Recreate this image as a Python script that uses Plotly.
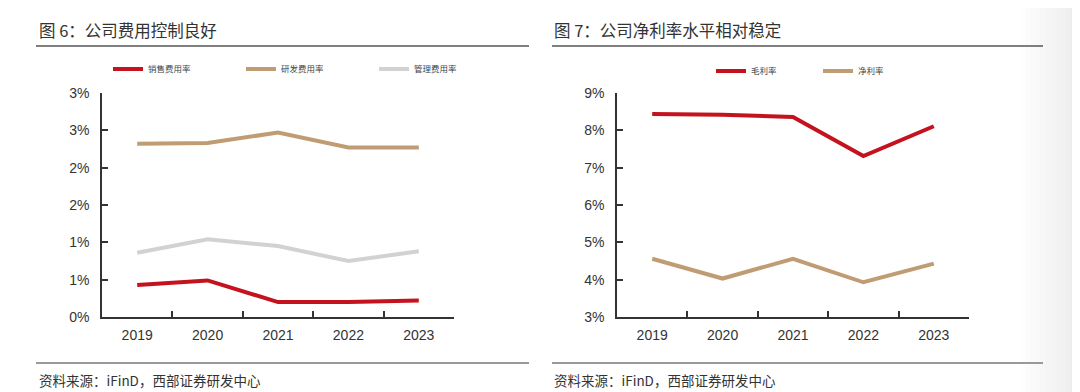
import plotly.graph_objects as go

W, H = 1080, 392
OX, OY = 8, 8   # the page body offsets the figure by 8 px

# ---------------- data ----------------
years = ["2019", "2020", "2021", "2022", "2023"]
sales_rate = [0.43, 0.49, 0.20, 0.20, 0.22]      # 销售费用率 (%)
rnd_rate = [2.32, 2.33, 2.47, 2.27, 2.27]        # 研发费用率 (%)
admin_rate = [0.86, 1.04, 0.95, 0.75, 0.88]      # 管理费用率 (%)
gross_margin = [8.44, 8.42, 8.36, 7.31, 8.11]    # 毛利率 (%)
net_margin = [4.56, 4.03, 4.56, 3.93, 4.43]      # 净利率 (%)

left_yvals = [0, 0.5, 1, 1.5, 2, 2.5, 3]
left_ytext = ["0%", "1%", "1%", "2%", "2%", "3%", "3%"]
right_yvals = [3, 4, 5, 6, 7, 8, 9]
right_ytext = ["3%", "4%", "5%", "6%", "7%", "8%", "9%"]

title_left = "图 6：公司费用控制良好"
title_right = "图 7：公司净利率水平相对稳定"
source_text = "资料来源：iFinD，西部证券研发中心"

RED = "#C4121F"
TAN = "#C09C74"
GRAY = "#D2D2D2"
AX = "#333333"
CJK = "Noto Sans CJK SC"
LAT = "Liberation Sans, Arial"


def px_x(x):
    return (x - OX) / W


def px_y(y):
    return (H - (y - OY)) / H


fig = go.Figure()

fig.add_trace(go.Scatter(x=years, y=sales_rate, name="销售费用率", mode="lines",
                         line=dict(color=RED, width=4), xaxis="x", yaxis="y", legend="legend"))
fig.add_trace(go.Scatter(x=years, y=rnd_rate, name="研发费用率", mode="lines",
                         line=dict(color=TAN, width=4), xaxis="x", yaxis="y", legend="legend"))
fig.add_trace(go.Scatter(x=years, y=admin_rate, name="管理费用率", mode="lines",
                         line=dict(color=GRAY, width=4), xaxis="x", yaxis="y", legend="legend"))
fig.add_trace(go.Scatter(x=years, y=gross_margin, name="毛利率", mode="lines",
                         line=dict(color=RED, width=4), xaxis="x2", yaxis="y2", legend="legend2"))
fig.add_trace(go.Scatter(x=years, y=net_margin, name="净利率", mode="lines",
                         line=dict(color=TAN, width=4), xaxis="x2", yaxis="y2", legend="legend2"))

ydom = [px_y(317), px_y(93)]

xcommon = dict(type="category", range=[-0.5, 4.5], showline=True, linecolor=AX, linewidth=1.5,
               ticks="inside", tickson="boundaries", ticklen=6, tickwidth=1.5, tickcolor=AX,
               showgrid=False, zeroline=False, fixedrange=True, automargin=False,
               tickfont=dict(family=LAT, size=14, color=AX), ticklabelstandoff=4)
ycommon = dict(showline=True, linecolor=AX, linewidth=1.5, ticks="inside", ticklen=6,
               tickwidth=1.5, tickcolor=AX, showgrid=False, zeroline=False, automargin=False,
               tickfont=dict(family=LAT, size=14, color=AX), ticklabelstandoff=8)

legend_common = dict(orientation="h", xanchor="left", yanchor="middle", bgcolor="rgba(0,0,0,0)",
                     borderwidth=0, font=dict(family=CJK, size=8.5, color="#444"),
                     entrywidthmode="pixels", itemclick=False, itemdoubleclick=False,
                     tracegroupgap=0)

# background gradient on the right edge
shapes = []
n = 14
x_start, x_end = 1020, 1090
for i in range(n):
    x0 = x_start + (x_end - x_start) * i / n
    x1 = x_start + (x_end - x_start) * (i + 1) / n
    v = int(255 - (255 - 232) * ((i + 0.5) / n))
    shapes.append(dict(type="rect", xref="paper", yref="paper", x0=px_x(x0), x1=px_x(x1),
                       y0=0, y1=1, fillcolor=f"rgb({v},{v},{v})", line=dict(width=0), layer="below"))

# title and source lines
for (a, b) in [(36, 529), (552, 1043)]:
    shapes.append(dict(type="line", xref="paper", yref="paper", x0=px_x(a), x1=px_x(b),
                       y0=px_y(46), y1=px_y(46), line=dict(color="#555555", width=1.5)))
    shapes.append(dict(type="line", xref="paper", yref="paper", x0=px_x(a), x1=px_x(b),
                       y0=px_y(363), y1=px_y(363), line=dict(color="#999999", width=2)))

annotations = [
    dict(text=title_left, x=px_x(37), y=px_y(30), xref="paper", yref="paper", xanchor="left",
         yanchor="middle", showarrow=False, font=dict(family=CJK, size=16.5, color="#333")),
    dict(text=title_right, x=px_x(552), y=px_y(30), xref="paper", yref="paper", xanchor="left",
         yanchor="middle", showarrow=False, font=dict(family=CJK, size=16.5, color="#333")),
    dict(text=source_text, x=px_x(37), y=px_y(380), xref="paper", yref="paper", xanchor="left",
         yanchor="middle", showarrow=False, font=dict(family=CJK, size=13.5, color="#333")),
    dict(text=source_text, x=px_x(552), y=px_y(380), xref="paper", yref="paper", xanchor="left",
         yanchor="middle", showarrow=False, font=dict(family=CJK, size=13.5, color="#333")),
]

fig.update_layout(
    width=W, height=H, margin=dict(l=0, r=0, t=0, b=0, pad=0, autoexpand=False),
    paper_bgcolor="white", plot_bgcolor="white", showlegend=True,
    xaxis=dict(domain=[px_x(102), px_x(454)], anchor="y", **xcommon),
    yaxis=dict(domain=ydom, anchor="x", range=[0, 3], tickvals=left_yvals, ticktext=left_ytext,
               **ycommon),
    xaxis2=dict(domain=[px_x(617), px_x(969)], anchor="y2", **xcommon),
    yaxis2=dict(domain=ydom, anchor="x2", range=[3, 9], tickvals=right_yvals, ticktext=right_ytext,
                **ycommon),
    legend=dict(x=px_x(108), y=px_y(69), entrywidth=88, **legend_common),
    legend2=dict(x=px_x(711), y=px_y(71), entrywidth=62, **legend_common),
    shapes=shapes, annotations=annotations,
)

fig.write_html("out.html")
